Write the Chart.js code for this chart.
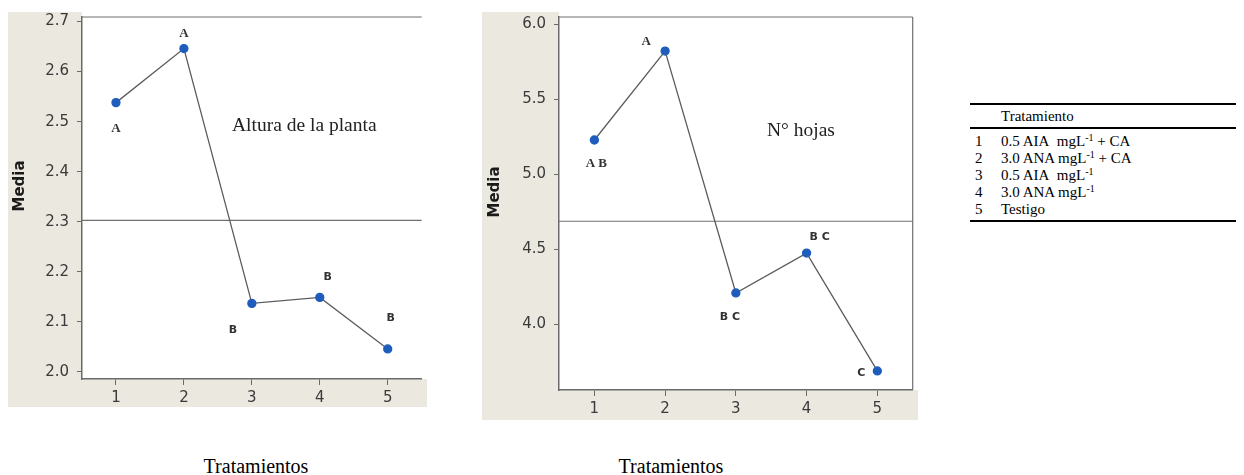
<!DOCTYPE html>
<html>
<head>
<meta charset="utf-8">
<script src="https://cdn.jsdelivr.net/npm/chart.js@4.4.1/dist/chart.umd.min.js"></script>
<style>
  body { margin: 0; background: #fff; width: 1244px; height: 475px; position: relative; overflow: hidden; font-family: "Liberation Serif", "Times New Roman", serif; color: #000; }
  .panel { position: absolute; background: #ebe8df; }
  #p1 { left: 8px; top: 12px; width: 419px; height: 395px; }
  #p2 { left: 482px; top: 12px; width: 436px; height: 408px; }
  canvas { position: absolute; top: 0; }
  #c1 { left: 8px; }
  #c2 { left: 482px; }
  .xtitle { position: absolute; top: 456px; font-size: 20px; line-height: 20px; transform: translateX(-50%); white-space: nowrap; }
  #tbl { position: absolute; left: 970px; top: 103px; width: 266px; border-collapse: collapse; font-size: 15px; border-top: 2px solid #000; border-bottom: 2px solid #000; }
  #tbl td { padding: 0; line-height: 17px; white-space: nowrap; }
  #tbl td.n { width: 26px; padding-left: 5px; }
  #tbl tr.hd td { line-height: 22px; border-bottom: 2px solid #000; }
  #tbl tr.r1 td { padding-top: 4px; }
  #tbl tr.r5 td { padding-bottom: 2px; }
  #tbl sup { font-size: 10px; line-height: 0; vertical-align: 5px; }
</style>
</head>
<body>
<div class="panel" id="p1"></div>
<div class="panel" id="p2"></div>
<canvas id="c1" width="419" height="407"></canvas>
<canvas id="c2" width="436" height="420"></canvas>
<div class="xtitle" style="left:256px">Tratamientos</div>
<div class="xtitle" style="left:671px">Tratamientos</div>

<table id="tbl">
  <tr class="hd"><td class="n"></td><td>Tratamiento</td></tr>
  <tr class="r1"><td class="n">1</td><td>0.5 AIA&nbsp; mgL<sup>-1</sup> + CA</td></tr>
  <tr><td class="n">2</td><td>3.0 ANA mgL<sup>-1</sup> + CA</td></tr>
  <tr><td class="n">3</td><td>0.5 AIA&nbsp; mgL<sup>-1</sup></td></tr>
  <tr><td class="n">4</td><td>3.0 ANA mgL<sup>-1</sup></td></tr>
  <tr class="r5"><td class="n">5</td><td>Testigo</td></tr>
</table>

<script>
// data
const treatments = ['1', '2', '3', '4', '5'];

const alturaMeans = [2.538, 2.646, 2.137, 2.149, 2.046];
const alturaGroups = ['A', 'A', 'B', 'B', 'B'];
const alturaTicks = [2.0, 2.1, 2.2, 2.3, 2.4, 2.5, 2.6, 2.7];
const alturaGrand = 2.303;

const hojasMeans = [5.229, 5.822, 4.209, 4.475, 3.689];
const hojasGroups = ['A B', 'A', 'B C', 'B C', 'C'];
const hojasTicks = [4.0, 4.5, 5.0, 5.5, 6.0];
const hojasGrand = 4.687;

const tickFont = { family: 'DejaVu Sans', size: 15 };
const axisGrey = '#6a6a6a';

// white plot area, grand-mean line, frame lines, letters and note
const panelPlugin = {
  id: 'panel',
  beforeDraw(chart) {
    const { ctx, chartArea: a } = chart;
    ctx.save();
    ctx.fillStyle = '#fff';
    ctx.fillRect(a.left, 0, chart.width - a.left, a.bottom);
    ctx.restore();
  },
  beforeDatasetsDraw(chart, args, opts) {
    const { ctx, chartArea: a } = chart;
    const y = chart.scales.y.getPixelForValue(opts.mean);
    ctx.save();
    ctx.strokeStyle = '#707070';
    ctx.lineWidth = 1.2;
    ctx.beginPath();
    ctx.moveTo(a.left, y); ctx.lineTo(a.right, y);
    ctx.moveTo(a.left, a.top); ctx.lineTo(a.right, a.top);
    if (opts.rightBorder) { ctx.moveTo(a.right, a.top); ctx.lineTo(a.right, a.bottom); }
    ctx.stroke();
    ctx.restore();
  },
  afterDraw(chart, args, opts) {
    const { ctx } = chart;
    const pts = chart.getDatasetMeta(0).data;
    ctx.save();
    ctx.fillStyle = '#333';
    ctx.textAlign = 'center';
    ctx.textBaseline = 'middle';
    opts.groups.forEach((g, i) => {
      const off = opts.offsets[i];
      ctx.font = off[2];
      ctx.fillText(g, pts[i].x + off[0], pts[i].y + off[1]);
    });
    ctx.fillStyle = '#222';
    ctx.textAlign = 'left';
    ctx.font = '19.5px "Liberation Serif"';
    ctx.fillText(opts.note, opts.noteAt[0], opts.noteAt[1]);
    // y axis title
    ctx.translate(opts.titleAt[0], opts.titleAt[1]);
    ctx.rotate(-Math.PI / 2);
    ctx.textAlign = 'center';
    ctx.fillStyle = '#1a1a1a';
    ctx.font = 'bold 15px "DejaVu Sans"';
    ctx.fillText('Media', 0, 0);
    ctx.restore();
  }
};

function makeChart(id, means, groups, ticks, yMin, yMax, extra) {
  return new Chart(document.getElementById(id), {
    type: 'line',
    data: {
      labels: treatments,
      datasets: [{
        data: means,
        borderColor: '#5c5c5c',
        borderWidth: 1.3,
        pointRadius: 4,
        pointBackgroundColor: '#1f5dbd',
        pointBorderColor: '#1f5dbd',
        tension: 0
      }]
    },
    options: {
      responsive: false,
      animation: false,
      layout: { padding: extra.padding },
      plugins: {
        legend: { display: false },
        tooltip: { enabled: false },
        panel: {
          mean: extra.mean,
          groups: groups,
          offsets: extra.offsets,
          note: extra.note,
          noteAt: extra.noteAt,
          titleAt: extra.titleAt,
          rightBorder: extra.rightBorder
        }
      },
      scales: {
        x: {
          offset: true,
          afterFit: s => { s.height = extra.xAxisH; },
          grid: { offset: false, drawOnChartArea: false, tickLength: 6, color: axisGrey },
          border: { color: axisGrey, width: 1.5 },
          ticks: { font: tickFont, color: '#3a3a3a', padding: 4, maxRotation: 0 }
        },
        y: {
          min: yMin,
          max: yMax,
          afterBuildTicks: s => { s.ticks = ticks.map(v => ({ value: v })); },
          afterFit: s => { s.width = extra.yAxisW; },
          grid: { drawOnChartArea: false, tickLength: 5, color: axisGrey },
          border: { color: axisGrey, width: 1.5 },
          ticks: { font: tickFont, color: '#3a3a3a', padding: 8, callback: v => v.toFixed(1) }
        }
      }
    },
    plugins: [panelPlugin]
  });
}

const serifLbl = 'bold 13px "Liberation Serif"';
const sansLbl = 'bold 11px "DejaVu Sans"';

makeChart('c1', alturaMeans, alturaGroups, alturaTicks, 1.986, 2.709, {
  mean: alturaGrand,
  padding: { top: 16, right: 0, left: 0, bottom: 0 },
  yAxisW: 74, xAxisH: 28,
  offsets: [[0, 26, serifLbl], [0, -15, serifLbl], [-19, 27, sansLbl], [8, -20, sansLbl], [3, -31, sansLbl]],
  note: 'Altura de la planta', noteAt: [224, 126],
  titleAt: [12, 186],
  rightBorder: false
});

makeChart('c2', hojasMeans, hojasGroups, hojasTicks, 3.562, 6.049, {
  mean: hojasGrand,
  padding: { top: 17, right: 2, left: 0, bottom: 0 },
  yAxisW: 77, xAxisH: 30,
  offsets: [[2, 24, serifLbl], [-19, -9, serifLbl], [-6, 24, sansLbl], [13, -16, sansLbl], [-16, 2, sansLbl]],
  note: 'N\u00b0 hojas', noteAt: [285, 131],
  titleAt: [13, 192],
  rightBorder: true
});
</script>
</body>
</html>
